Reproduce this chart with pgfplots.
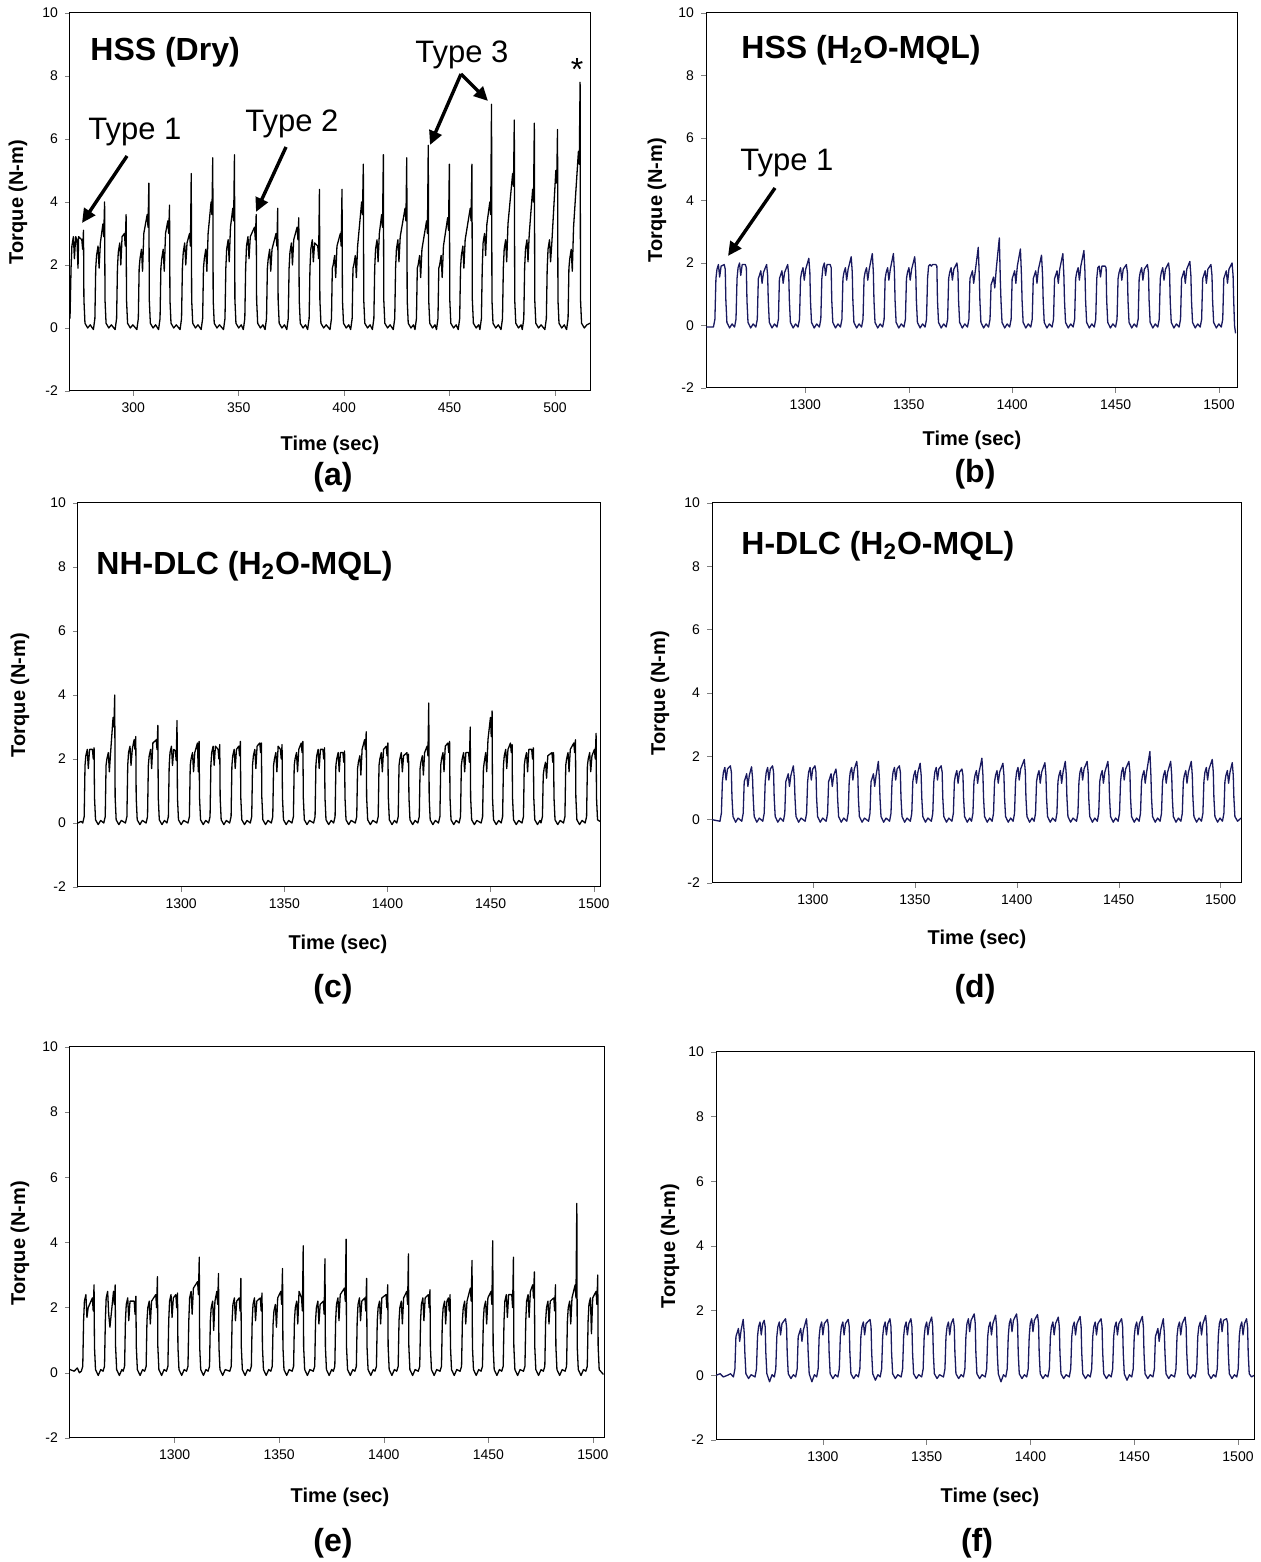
\documentclass[border=0pt]{standalone}
\usepackage{fontspec}
\setmainfont{Liberation Sans}
\usepackage{pgfplots}
\pgfplotsset{compat=1.18}
\usetikzlibrary{arrows.meta}
\definecolor{navytr}{RGB}{25,25,95}
\pgfplotsset{panel/.style={scale only axis, anchor=south west,
  axis line style={line width=0.5pt}, tick align=outside, tick pos=left,
  major tick length=2.5pt, ymin=-2, ymax=10, ytick={-2,0,2,4,6,8,10},
  tick label style={font=\fontsize{7}{8}\selectfont},
  /pgf/number format/assume math mode=true,
  xticklabel style={/pgf/number format/1000 sep={}},
  every axis plot/.append style={line width=0.65pt, line join=round}}}
\begin{document}
\begin{tikzpicture}
\path[use as bounding box] (0,0) rectangle (630.5pt,781pt);
% (a)
\begin{axis}[panel, at={(35pt,585.5pt)}, width=260pt, height=189pt, xmin=270, xmax=516.6, xtick={300,350,400,450,500}]
\addplot[black] coordinates {(270,0.3) (270.5,1.9) (270.9,2.6) (271.6,2.9) (272.1,2.2) (272.7,2.9) (273.3,2.8) (273.8,1.9) (274.1,2.9) (275.6,2.8) (276.0,2.5) (276.4,3.1) (276.6,0.9) (277.1,0.15) (278.4,0.0) (279.6,0.1)
(281.1,-0.05) (281.8,0.3) (282.2,1.9) (282.6,2.3) (283.3,2.6) (283.8,1.9) (284.4,2.7) (285.6,3.3) (286.0,2.9) (286.4,4.0) (286.6,0.9) (287.1,0.15) (288.4,0.0) (289.6,0.1)
(291.4,-0.05) (292.1,0.3) (292.5,1.9) (292.9,2.4) (293.6,2.7) (294.1,2.0) (294.7,2.9) (295.8,3.0) (296.2,2.6) (296.6,3.6) (296.8,0.9) (297.3,0.15) (298.6,0.0) (299.8,0.1)
(301.7,-0.05) (302.4,0.3) (302.8,1.9) (303.2,2.2) (303.9,2.5) (304.4,1.8) (305.0,3.0) (306.6,3.6) (307.0,3.2) (307.4,4.6) (307.6,0.9) (308.1,0.15) (309.4,0.0) (310.6,0.1)
(312.0,-0.05) (312.7,0.3) (313.1,1.9) (313.5,2.2) (314.2,2.5) (314.7,1.8) (315.3,3.0) (316.4,3.4) (316.8,3.0) (317.2,3.9) (317.4,0.9) (317.9,0.15) (319.2,0.0) (320.4,0.1)
(322.2,-0.05) (322.9,0.3) (323.3,1.9) (323.7,2.4) (324.4,2.7) (324.9,2.0) (325.5,2.7) (326.7,3.0) (327.1,2.6) (327.5,4.9) (327.7,0.9) (328.2,0.15) (329.5,0.0) (330.7,0.1)
(332.2,-0.05) (332.9,0.3) (333.3,1.9) (333.7,2.2) (334.4,2.5) (334.9,1.8) (335.5,3.0) (336.9,4.0) (337.3,3.6) (337.7,5.4) (337.9,0.9) (338.4,0.15) (339.7,0.0) (340.9,0.1)
(342.8,-0.05) (343.5,0.3) (343.9,1.9) (344.3,2.5) (345.0,2.8) (345.5,2.1) (346.1,3.2) (347.2,3.8) (347.6,3.4) (348.0,5.5) (348.2,0.9) (348.7,0.15) (350.0,0.0) (351.2,0.1)
(352.2,-0.05) (352.9,0.3) (353.3,1.9) (353.7,2.6) (354.4,2.9) (354.9,2.2) (355.5,2.9) (357.5,3.2) (357.9,2.8) (358.3,3.6) (358.5,0.9) (359.0,0.15) (360.3,0.0) (361.5,0.1)
(362.5,-0.05) (363.2,0.3) (363.6,1.9) (364.0,2.2) (364.7,2.5) (365.2,1.8) (365.8,2.5) (367.7,3.0) (368.1,2.6) (368.5,3.8) (368.7,0.9) (369.2,0.15) (370.5,0.0) (371.7,0.1)
(372.8,-0.05) (373.5,0.3) (373.9,1.9) (374.3,2.4) (375.0,2.7) (375.5,2.0) (376.1,2.8) (377.7,3.2) (378.1,2.8) (378.5,3.5) (378.7,0.9) (379.2,0.15) (380.5,0.0) (381.7,0.1)
(382.7,-0.05) (383.4,0.3) (383.8,1.9) (384.2,2.5) (384.9,2.8) (385.4,2.1) (386.0,2.7) (387.5,2.6) (387.9,2.2) (388.3,4.4) (388.5,0.9) (389.0,0.15) (390.3,0.0) (391.5,0.1)
(393.3,-0.05) (394.0,0.3) (394.4,1.9) (394.8,2.0) (395.5,2.3) (396.0,1.6) (396.6,2.6) (398.2,3.0) (398.6,2.6) (399.0,4.4) (399.2,0.9) (399.7,0.15) (401.0,0.0) (402.2,0.1)
(403.1,-0.05) (403.8,0.3) (404.2,1.9) (404.6,2.0) (405.3,2.3) (405.8,1.6) (406.4,2.6) (408.3,4.0) (408.7,3.6) (409.1,5.2) (409.3,0.9) (409.8,0.15) (411.1,0.0) (412.3,0.1)
(413.4,-0.05) (414.1,0.3) (414.5,1.9) (414.9,2.5) (415.6,2.8) (416.1,2.1) (416.7,3.0) (417.8,3.6) (418.2,3.2) (418.6,5.5) (418.8,0.9) (419.3,0.15) (420.6,0.0) (421.8,0.1)
(423.3,-0.05) (424.0,0.3) (424.4,1.9) (424.8,2.5) (425.5,2.8) (426.0,2.1) (426.6,2.9) (428.9,3.8) (429.3,3.4) (429.7,5.4) (429.9,0.9) (430.4,0.15) (431.7,0.0) (432.9,0.1)
(433.6,-0.05) (434.3,0.3) (434.7,1.9) (435.1,2.0) (435.8,2.3) (436.3,1.6) (436.9,2.5) (439.1,3.4) (439.5,3.0) (439.9,5.8) (440.1,0.9) (440.6,0.15) (441.9,0.0) (443.1,0.1)
(443.8,-0.05) (444.5,0.3) (444.9,1.9) (445.3,2.0) (446.0,2.3) (446.5,1.6) (447.1,2.6) (449.1,3.5) (449.5,3.1) (449.9,5.2) (450.1,0.9) (450.6,0.15) (451.9,0.0) (453.1,0.1)
(454.1,-0.05) (454.8,0.3) (455.2,1.9) (455.6,2.3) (456.3,2.6) (456.8,1.9) (457.4,2.8) (459.8,3.8) (460.2,3.4) (460.6,5.2) (460.8,0.9) (461.3,0.15) (462.6,0.0) (463.8,0.1)
(464.4,-0.05) (465.1,0.3) (465.5,1.9) (465.9,2.7) (466.6,3.0) (467.1,2.3) (467.7,3.3) (469.1,4.0) (469.5,3.6) (469.9,7.1) (470.1,0.9) (470.6,0.15) (471.9,0.0) (473.1,0.1)
(474.4,-0.05) (475.1,0.3) (475.5,1.9) (475.9,2.5) (476.6,2.8) (477.1,2.1) (477.7,3.3) (479.9,4.9) (480.3,4.5) (480.7,6.6) (480.9,0.9) (481.4,0.15) (482.7,0.0) (483.9,0.1)
(484.5,-0.05) (485.2,0.3) (485.6,1.9) (486.0,2.5) (486.7,2.8) (487.2,2.1) (487.8,3.0) (489.4,4.4) (489.8,4.0) (490.2,6.5) (490.4,0.9) (490.9,0.15) (492.2,0.0) (493.4,0.1)
(495.2,-0.05) (495.9,0.3) (496.3,1.9) (496.7,2.5) (497.4,2.8) (497.9,2.1) (498.5,2.7) (500.4,5.0) (500.8,4.6) (501.2,6.3) (501.4,0.9) (501.9,0.15) (503.2,0.0) (504.4,0.1)
(505.5,-0.05) (506.2,0.3) (506.6,1.9) (507.0,2.2) (507.7,2.5) (508.2,1.8) (508.8,3.2) (511.1,5.6) (511.5,5.2) (511.9,7.8) (512.1,0.9) (512.6,0.15) (513.9,0.0) (515.1,0.1) (516.6,0.15)};
\end{axis}
% (b)
\begin{axis}[panel, at={(353pt,587pt)}, width=265.5pt, height=187.5pt, xmin=1252, xmax=1508.7, xtick={1300,1350,1400,1450,1500}]
\addplot[navytr] coordinates {(1252,-0.05)
(1255.6,-0.05) (1256.3,0.2) (1256.8,1.5) (1257.3,1.8) (1258.0,1.95) (1258.6,1.55) (1259.3,1.9) (1260.8,1.95) (1261.3,1.8) (1261.6,0.8) (1262.1,0.1) (1263.4,-0.08) (1264.6,0.05)
(1265.8,-0.05) (1266.5,0.2) (1267.0,1.5) (1267.5,1.85) (1268.2,2.0) (1268.8,1.6) (1269.5,1.95) (1271.0,1.95) (1271.5,1.85) (1271.8,0.8) (1272.3,0.1) (1273.6,-0.08) (1274.8,0.05)
(1276.1,-0.05) (1276.8,0.2) (1277.3,1.5) (1277.8,1.6) (1278.5,1.75) (1279.1,1.35) (1279.8,1.7) (1281.3,1.95) (1281.8,1.6) (1282.1,0.8) (1282.6,0.1) (1283.9,-0.08) (1285.1,0.05)
(1286.3,-0.05) (1287.0,0.2) (1287.5,1.5) (1288.0,1.6) (1288.7,1.75) (1289.3,1.35) (1290.0,1.7) (1291.5,1.95) (1292.0,1.6) (1292.3,0.8) (1292.8,0.1) (1294.1,-0.08) (1295.3,0.05)
(1296.5,-0.05) (1297.2,0.2) (1297.7,1.5) (1298.2,1.7) (1298.9,1.85) (1299.5,1.45) (1300.2,1.8) (1301.7,2.15) (1302.2,1.7) (1302.5,0.8) (1303.0,0.1) (1304.3,-0.08) (1305.5,0.05)
(1306.8,-0.05) (1307.5,0.2) (1308.0,1.5) (1308.5,1.85) (1309.2,2.0) (1309.8,1.6) (1310.5,1.95) (1312.0,1.95) (1312.5,1.85) (1312.8,0.8) (1313.3,0.1) (1314.6,-0.08) (1315.8,0.05)
(1317.0,-0.05) (1317.7,0.2) (1318.2,1.5) (1318.7,1.7) (1319.4,1.85) (1320.0,1.45) (1320.7,1.8) (1322.2,2.2) (1322.7,1.7) (1323.0,0.8) (1323.5,0.1) (1324.8,-0.08) (1326.0,0.05)
(1327.2,-0.05) (1327.9,0.2) (1328.4,1.5) (1328.9,1.7) (1329.6,1.85) (1330.2,1.45) (1330.9,1.8) (1332.4,2.3) (1332.9,1.7) (1333.2,0.8) (1333.7,0.1) (1335.0,-0.08) (1336.2,0.05)
(1337.4,-0.05) (1338.1,0.2) (1338.6,1.5) (1339.1,1.7) (1339.8,1.85) (1340.4,1.45) (1341.1,1.8) (1342.6,2.3) (1343.1,1.7) (1343.4,0.8) (1343.9,0.1) (1345.2,-0.08) (1346.4,0.05)
(1347.7,-0.05) (1348.4,0.2) (1348.9,1.5) (1349.4,1.7) (1350.1,1.85) (1350.7,1.45) (1351.4,1.8) (1352.9,2.2) (1353.4,1.7) (1353.7,0.8) (1354.2,0.1) (1355.5,-0.08) (1356.7,0.05)
(1357.9,-0.05) (1358.6,0.2) (1359.1,1.5) (1359.6,1.9) (1360.3,1.95) (1360.9,1.9) (1361.6,1.95) (1363.1,1.95) (1363.6,1.9) (1363.9,0.8) (1364.4,0.1) (1365.7,-0.08) (1366.9,0.05)
(1368.1,-0.05) (1368.8,0.2) (1369.3,1.5) (1369.8,1.7) (1370.5,1.85) (1371.1,1.45) (1371.8,1.8) (1373.3,2.0) (1373.8,1.7) (1374.1,0.8) (1374.6,0.1) (1375.9,-0.08) (1377.1,0.05)
(1378.4,-0.05) (1379.1,0.2) (1379.6,1.5) (1380.1,1.6) (1380.8,1.75) (1381.4,1.35) (1382.1,1.7) (1383.6,2.5) (1384.1,1.6) (1384.4,0.8) (1384.9,0.1) (1386.2,-0.08) (1387.4,0.05)
(1388.6,-0.05) (1389.3,0.2) (1389.8,1.3) (1390.3,1.4) (1391.0,1.55) (1391.6,1.2) (1392.3,1.8) (1393.8,2.8) (1394.3,1.4) (1394.6,0.8) (1395.1,0.1) (1396.4,-0.08) (1397.6,0.05)
(1398.8,-0.05) (1399.5,0.2) (1400.0,1.5) (1400.5,1.6) (1401.2,1.75) (1401.8,1.35) (1402.5,1.9) (1404.0,2.45) (1404.5,1.6) (1404.8,0.8) (1405.3,0.1) (1406.6,-0.08) (1407.8,0.05)
(1409.0,-0.05) (1409.7,0.2) (1410.2,1.5) (1410.7,1.6) (1411.4,1.75) (1412.0,1.35) (1412.7,1.8) (1414.2,2.25) (1414.7,1.6) (1415.0,0.8) (1415.5,0.1) (1416.8,-0.08) (1418.0,0.05)
(1419.3,-0.05) (1420.0,0.2) (1420.5,1.5) (1421.0,1.6) (1421.7,1.75) (1422.3,1.35) (1423.0,1.8) (1424.5,2.3) (1425.0,1.6) (1425.3,0.8) (1425.8,0.1) (1427.1,-0.08) (1428.3,0.05)
(1429.5,-0.05) (1430.2,0.2) (1430.7,1.5) (1431.2,1.7) (1431.9,1.85) (1432.5,1.45) (1433.2,1.9) (1434.7,2.4) (1435.2,1.7) (1435.5,0.8) (1436.0,0.1) (1437.3,-0.08) (1438.5,0.05)
(1439.7,-0.05) (1440.4,0.2) (1440.9,1.5) (1441.4,1.85) (1442.1,1.9) (1442.7,1.55) (1443.4,1.9) (1444.9,1.9) (1445.4,1.85) (1445.7,0.8) (1446.2,0.1) (1447.5,-0.08) (1448.7,0.05)
(1450.0,-0.05) (1450.7,0.2) (1451.2,1.5) (1451.7,1.7) (1452.4,1.85) (1453.0,1.45) (1453.7,1.8) (1455.2,1.95) (1455.7,1.7) (1456.0,0.8) (1456.5,0.1) (1457.8,-0.08) (1459.0,0.05)
(1460.2,-0.05) (1460.9,0.2) (1461.4,1.5) (1461.9,1.7) (1462.6,1.85) (1463.2,1.45) (1463.9,1.8) (1465.4,1.95) (1465.9,1.7) (1466.2,0.8) (1466.7,0.1) (1468.0,-0.08) (1469.2,0.05)
(1470.4,-0.05) (1471.1,0.2) (1471.6,1.5) (1472.1,1.7) (1472.8,1.85) (1473.4,1.45) (1474.1,1.8) (1475.6,2.0) (1476.1,1.7) (1476.4,0.8) (1476.9,0.1) (1478.2,-0.08) (1479.4,0.05)
(1480.7,-0.05) (1481.4,0.2) (1481.9,1.5) (1482.4,1.6) (1483.1,1.75) (1483.7,1.35) (1484.4,1.8) (1485.9,2.05) (1486.4,1.6) (1486.7,0.8) (1487.2,0.1) (1488.5,-0.08) (1489.7,0.05)
(1490.9,-0.05) (1491.6,0.2) (1492.1,1.5) (1492.6,1.6) (1493.3,1.75) (1493.9,1.35) (1494.6,1.8) (1496.1,1.95) (1496.6,1.6) (1496.9,0.8) (1497.4,0.1) (1498.7,-0.08) (1499.9,0.05)
(1501.1,-0.05) (1501.8,0.2) (1502.3,1.5) (1502.8,1.6) (1503.5,1.75) (1504.1,1.35) (1504.8,1.8) (1506.3,2.0) (1506.8,1.6) (1507.1,0.8) (1507.5,0.0) (1508.0,-0.25)};
\end{axis}
% (c)
\begin{axis}[panel, at={(39pt,337.5pt)}, width=261pt, height=192pt, xmin=1250, xmax=1503, xtick={1300,1350,1400,1450,1500}]
\addplot[black] coordinates {(1250,0.0) (1251.5,0.05) (1252.3,0.0)
(1253.0,0.2) (1253.4,1.8) (1253.8,2.1) (1254.5,2.3) (1255.0,1.7) (1255.6,2.3) (1257.0,2.3) (1257.4,2.0) (1257.8,2.35) (1258.0,0.8) (1258.5,0.1) (1259.8,-0.05) (1261.0,0.08)
(1262.5,0.0) (1263.2,0.2) (1263.6,1.8) (1264.0,2.0) (1264.7,2.2) (1265.2,1.6) (1265.8,2.2) (1267.0,3.3) (1267.4,3.0) (1267.8,4.0) (1268.0,0.8) (1268.5,0.1) (1269.8,-0.05) (1271.0,0.08)
(1273.0,0.0) (1273.7,0.2) (1274.1,1.8) (1274.5,2.2) (1275.2,2.4) (1275.7,1.8) (1276.3,2.3) (1277.2,2.6) (1277.6,2.3) (1278.0,2.7) (1278.2,0.8) (1278.7,0.1) (1280.0,-0.05) (1281.2,0.08)
(1283.0,0.0) (1283.7,0.2) (1284.1,1.8) (1284.5,2.1) (1285.2,2.3) (1285.7,1.7) (1286.3,2.5) (1287.9,2.6) (1288.3,2.3) (1288.7,3.05) (1288.9,0.8) (1289.4,0.1) (1290.7,-0.05) (1291.9,0.08)
(1293.1,0.0) (1293.8,0.2) (1294.2,1.8) (1294.6,2.2) (1295.3,2.4) (1295.8,1.8) (1296.4,2.3) (1297.2,2.25) (1297.6,1.95) (1298.0,3.2) (1298.2,0.8) (1298.7,0.1) (1300.0,-0.05) (1301.2,0.08)
(1303.3,0.0) (1304.0,0.2) (1304.4,1.8) (1304.8,2.0) (1305.5,2.2) (1306.0,1.6) (1306.6,2.2) (1307.9,2.5) (1308.3,1.6) (1308.7,2.55) (1308.9,0.8) (1309.4,0.1) (1310.7,-0.05) (1311.9,0.08)
(1313.3,0.0) (1314.0,0.2) (1314.4,1.8) (1314.8,2.2) (1315.5,2.4) (1316.0,1.8) (1316.6,2.4) (1317.9,2.3) (1318.3,2.0) (1318.7,2.45) (1318.9,0.8) (1319.4,0.1) (1320.7,-0.05) (1321.9,0.08)
(1323.5,0.0) (1324.2,0.2) (1324.6,1.8) (1325.0,2.1) (1325.7,2.3) (1326.2,1.7) (1326.8,2.3) (1327.9,2.4) (1328.3,2.1) (1328.7,2.55) (1328.9,0.8) (1329.4,0.1) (1330.7,-0.05) (1331.9,0.08)
(1333.5,0.0) (1334.2,0.2) (1334.6,1.8) (1335.0,2.1) (1335.7,2.3) (1336.2,1.7) (1336.8,2.4) (1338.1,2.5) (1338.5,2.2) (1338.9,2.5) (1339.1,0.8) (1339.6,0.1) (1340.9,-0.05) (1342.1,0.08)
(1343.7,0.0) (1344.4,0.2) (1344.8,1.8) (1345.2,2.0) (1345.9,2.2) (1346.4,1.6) (1347.0,2.4) (1348.1,2.3) (1348.5,2.0) (1348.9,2.45) (1349.1,0.8) (1349.6,0.1) (1350.9,-0.05) (1352.1,0.08)
(1353.7,0.0) (1354.4,0.2) (1354.8,1.8) (1355.2,2.0) (1355.9,2.2) (1356.4,1.6) (1357.0,2.3) (1358.2,2.5) (1358.6,2.2) (1359.0,2.55) (1359.2,0.8) (1359.7,0.1) (1361.0,-0.05) (1362.2,0.08)
(1364.2,0.0) (1364.9,0.2) (1365.3,1.8) (1365.7,2.1) (1366.4,2.3) (1366.9,1.7) (1367.5,2.3) (1368.7,2.3) (1369.1,2.0) (1369.5,2.35) (1369.7,0.8) (1370.2,0.1) (1371.5,-0.05) (1372.7,0.08)
(1373.9,0.0) (1374.6,0.2) (1375.0,1.8) (1375.4,2.0) (1376.1,2.2) (1376.6,1.6) (1377.2,2.2) (1378.4,2.2) (1378.8,1.9) (1379.2,2.25) (1379.4,0.8) (1379.9,0.1) (1381.2,-0.05) (1382.4,0.08)
(1384.4,0.0) (1385.1,0.2) (1385.5,1.7) (1385.9,1.9) (1386.6,2.1) (1387.1,1.5) (1387.7,2.3) (1388.9,2.6) (1389.3,2.3) (1389.7,2.85) (1389.9,0.8) (1390.4,0.1) (1391.7,-0.05) (1392.9,0.08)
(1394.8,0.0) (1395.5,0.2) (1395.9,1.8) (1396.3,2.0) (1397.0,2.2) (1397.5,1.6) (1398.1,2.3) (1399.4,2.4) (1399.8,2.1) (1400.2,2.5) (1400.4,0.8) (1400.9,0.1) (1402.2,-0.05) (1403.4,0.08)
(1404.5,0.0) (1405.2,0.2) (1405.6,1.8) (1406.0,2.0) (1406.7,2.2) (1407.2,1.6) (1407.8,2.1) (1409.4,2.2) (1409.8,1.9) (1410.2,2.15) (1410.4,0.8) (1410.9,0.1) (1412.2,-0.05) (1413.4,0.08)
(1414.7,0.0) (1415.4,0.2) (1415.8,1.7) (1416.2,1.9) (1416.9,2.1) (1417.4,1.5) (1418.0,2.2) (1419.2,2.4) (1419.6,2.1) (1420.0,3.75) (1420.2,0.8) (1420.7,0.1) (1422.0,-0.05) (1423.2,0.08)
(1424.7,0.0) (1425.4,0.2) (1425.8,1.8) (1426.2,2.0) (1426.9,2.2) (1427.4,1.6) (1428.0,2.4) (1429.3,2.5) (1429.7,2.2) (1430.1,2.55) (1430.3,0.8) (1430.8,0.1) (1432.1,-0.05) (1433.3,0.08)
(1434.7,0.0) (1435.4,0.2) (1435.8,1.8) (1436.2,2.0) (1436.9,2.2) (1437.4,1.6) (1438.0,2.2) (1439.3,2.2) (1439.7,1.9) (1440.1,3.0) (1440.3,0.8) (1440.8,0.1) (1442.1,-0.05) (1443.3,0.08)
(1445.4,0.0) (1446.1,0.2) (1446.5,1.7) (1446.9,1.9) (1447.6,2.2) (1448.1,1.6) (1448.7,2.6) (1449.9,3.3) (1450.3,2.7) (1450.7,3.5) (1450.9,0.8) (1451.4,0.1) (1452.7,-0.05) (1453.9,0.08)
(1455.1,0.0) (1455.8,0.2) (1456.2,1.8) (1456.6,2.1) (1457.3,2.3) (1457.8,1.7) (1458.4,2.3) (1459.6,2.5) (1460.0,2.2) (1460.4,2.45) (1460.6,0.8) (1461.1,0.1) (1462.4,-0.05) (1463.6,0.08)
(1465.2,0.0) (1465.9,0.2) (1466.3,1.8) (1466.7,2.0) (1467.4,2.2) (1467.9,1.6) (1468.5,2.3) (1469.9,2.3) (1470.3,2.0) (1470.7,2.35) (1470.9,0.8) (1471.4,0.1) (1472.7,-0.05) (1473.9,0.08)
(1474.4,0.0) (1475.1,0.2) (1475.5,1.5) (1475.9,1.7) (1476.6,1.9) (1477.1,1.4) (1477.7,2.1) (1479.7,2.2) (1480.1,1.9) (1480.5,2.2) (1480.7,0.8) (1481.2,0.1) (1482.5,-0.05) (1483.7,0.08)
(1485.3,0.0) (1486.0,0.2) (1486.4,1.8) (1486.8,2.0) (1487.5,2.2) (1488.0,1.6) (1488.6,2.3) (1490.3,2.5) (1490.7,2.2) (1491.1,2.6) (1491.3,0.8) (1491.8,0.1) (1493.1,-0.05) (1494.3,0.08)
(1495.8,0.0) (1496.5,0.2) (1496.9,1.8) (1497.3,2.0) (1498.0,2.2) (1498.5,1.6) (1499.1,2.1) (1500.3,2.3) (1500.7,2.0) (1501.1,2.8) (1501.3,0.8) (1501.8,0.1) (1503.0,0.05)};
\end{axis}
% (d)
\begin{axis}[panel, at={(356pt,339.5pt)}, width=264.5pt, height=190pt, xmin=1250.5, xmax=1510, xtick={1300,1350,1400,1450,1500}]
\addplot[navytr] coordinates {(1250.5,0.0)
(1254.4,-0.05) (1255.1,0.2) (1255.6,1.2) (1256.1,1.5) (1256.8,1.65) (1257.4,1.25) (1258.1,1.6) (1259.5,1.7) (1260.0,1.5) (1260.3,0.7) (1260.8,0.1) (1262.1,-0.08) (1263.3,0.05)
(1265.1,-0.05) (1265.8,0.2) (1266.3,1.2) (1266.8,1.3) (1267.5,1.45) (1268.1,1.05) (1268.8,1.4) (1269.9,1.67) (1270.4,1.3) (1270.7,0.7) (1271.2,0.1) (1272.5,-0.08) (1273.7,0.05)
(1275.4,-0.05) (1276.1,0.2) (1276.6,1.2) (1277.1,1.5) (1277.8,1.65) (1278.4,1.25) (1279.1,1.6) (1280.2,1.7) (1280.7,1.5) (1281.0,0.7) (1281.5,0.1) (1282.8,-0.08) (1284.0,0.05)
(1285.5,-0.05) (1286.2,0.2) (1286.7,1.2) (1287.2,1.3) (1287.9,1.45) (1288.5,1.05) (1289.2,1.4) (1290.4,1.7) (1290.9,1.3) (1291.2,0.7) (1291.7,0.1) (1293.0,-0.08) (1294.2,0.05)
(1296.2,-0.05) (1296.9,0.2) (1297.4,1.2) (1297.9,1.5) (1298.6,1.65) (1299.2,1.25) (1299.9,1.6) (1301.0,1.7) (1301.5,1.5) (1301.8,0.7) (1302.3,0.1) (1303.6,-0.08) (1304.8,0.05)
(1306.5,-0.05) (1307.2,0.2) (1307.7,1.2) (1308.2,1.3) (1308.9,1.45) (1309.5,1.05) (1310.2,1.4) (1311.3,1.6) (1311.8,1.3) (1312.1,0.7) (1312.6,0.1) (1313.9,-0.08) (1315.1,0.05)
(1316.6,-0.05) (1317.3,0.2) (1317.8,1.2) (1318.3,1.5) (1319.0,1.65) (1319.6,1.25) (1320.3,1.6) (1321.5,1.84) (1322.0,1.5) (1322.3,0.7) (1322.8,0.1) (1324.1,-0.08) (1325.3,0.05)
(1327.3,-0.05) (1328.0,0.2) (1328.5,1.2) (1329.0,1.3) (1329.7,1.45) (1330.3,1.05) (1331.0,1.4) (1332.1,1.84) (1332.6,1.3) (1332.9,0.7) (1333.4,0.1) (1334.7,-0.08) (1335.9,0.05)
(1337.6,-0.05) (1338.3,0.2) (1338.8,1.2) (1339.3,1.5) (1340.0,1.65) (1340.6,1.25) (1341.3,1.6) (1342.4,1.7) (1342.9,1.5) (1343.2,0.7) (1343.7,0.1) (1345.0,-0.08) (1346.2,0.05)
(1347.8,-0.05) (1348.5,0.2) (1349.0,1.2) (1349.5,1.4) (1350.2,1.55) (1350.8,1.15) (1351.5,1.5) (1352.6,1.78) (1353.1,1.4) (1353.4,0.7) (1353.9,0.1) (1355.2,-0.08) (1356.4,0.05)
(1358.1,-0.05) (1358.8,0.2) (1359.3,1.2) (1359.8,1.5) (1360.5,1.65) (1361.1,1.25) (1361.8,1.6) (1362.9,1.7) (1363.4,1.5) (1363.7,0.7) (1364.2,0.1) (1365.5,-0.08) (1366.7,0.05)
(1368.2,-0.05) (1368.9,0.2) (1369.4,1.2) (1369.9,1.4) (1370.6,1.55) (1371.2,1.15) (1371.9,1.5) (1373.1,1.6) (1373.6,1.4) (1373.9,0.7) (1374.4,0.1) (1375.7,-0.08) (1376.9,0.05)
(1377.8,-0.05) (1378.5,0.2) (1379.0,1.2) (1379.5,1.4) (1380.2,1.55) (1380.8,1.15) (1381.5,1.5) (1382.9,1.94) (1383.4,1.4) (1383.7,0.7) (1384.2,0.1) (1385.5,-0.08) (1386.7,0.05)
(1387.9,-0.05) (1388.6,0.2) (1389.1,1.2) (1389.6,1.4) (1390.3,1.55) (1390.9,1.15) (1391.6,1.5) (1393.2,1.78) (1393.7,1.4) (1394.0,0.7) (1394.5,0.1) (1395.8,-0.08) (1397.0,0.05)
(1398.2,-0.05) (1398.9,0.2) (1399.4,1.2) (1399.9,1.5) (1400.6,1.65) (1401.2,1.25) (1401.9,1.6) (1403.7,1.9) (1404.2,1.5) (1404.5,0.7) (1405.0,0.1) (1406.3,-0.08) (1407.5,0.05)
(1408.5,-0.05) (1409.2,0.2) (1409.7,1.2) (1410.2,1.4) (1410.9,1.55) (1411.5,1.15) (1412.2,1.5) (1413.8,1.8) (1414.3,1.4) (1414.6,0.7) (1415.1,0.1) (1416.4,-0.08) (1417.6,0.05)
(1419.0,-0.05) (1419.7,0.2) (1420.2,1.2) (1420.7,1.4) (1421.4,1.55) (1422.0,1.15) (1422.7,1.5) (1423.8,1.84) (1424.3,1.4) (1424.6,0.7) (1425.1,0.1) (1426.4,-0.08) (1427.6,0.05)
(1429.3,-0.05) (1430.0,0.2) (1430.5,1.2) (1431.0,1.5) (1431.7,1.65) (1432.3,1.25) (1433.0,1.6) (1434.5,1.84) (1435.0,1.5) (1435.3,0.7) (1435.8,0.1) (1437.1,-0.08) (1438.3,0.05)
(1439.5,-0.05) (1440.2,0.2) (1440.7,1.2) (1441.2,1.4) (1441.9,1.55) (1442.5,1.15) (1443.2,1.5) (1444.7,1.84) (1445.2,1.4) (1445.5,0.7) (1446.0,0.1) (1447.3,-0.08) (1448.5,0.05)
(1449.7,-0.05) (1450.4,0.2) (1450.9,1.2) (1451.4,1.5) (1452.1,1.65) (1452.7,1.25) (1453.4,1.6) (1455.0,1.84) (1455.5,1.5) (1455.8,0.7) (1456.3,0.1) (1457.6,-0.08) (1458.8,0.05)
(1460.0,-0.05) (1460.7,0.2) (1461.2,1.2) (1461.7,1.4) (1462.4,1.55) (1463.0,1.15) (1463.7,1.5) (1465.3,2.15) (1465.8,1.4) (1466.1,0.7) (1466.6,0.1) (1467.9,-0.08) (1469.1,0.05)
(1470.3,-0.05) (1471.0,0.2) (1471.5,1.2) (1472.0,1.4) (1472.7,1.55) (1473.3,1.15) (1474.0,1.5) (1475.5,1.84) (1476.0,1.4) (1476.3,0.7) (1476.8,0.1) (1478.1,-0.08) (1479.3,0.05)
(1480.5,-0.05) (1481.2,0.2) (1481.7,1.2) (1482.2,1.4) (1482.9,1.55) (1483.5,1.15) (1484.2,1.5) (1485.6,1.84) (1486.1,1.4) (1486.4,0.7) (1486.9,0.1) (1488.2,-0.08) (1489.4,0.05)
(1490.6,-0.05) (1491.3,0.2) (1491.8,1.2) (1492.3,1.5) (1493.0,1.65) (1493.6,1.25) (1494.3,1.6) (1495.9,1.9) (1496.4,1.5) (1496.7,0.7) (1497.2,0.1) (1498.5,-0.08) (1499.7,0.05)
(1500.9,-0.05) (1501.6,0.2) (1502.1,1.2) (1502.6,1.4) (1503.3,1.55) (1503.9,1.15) (1504.6,1.5) (1505.7,1.8) (1506.2,1.4) (1506.5,0.7) (1507.0,0.1) (1508.3,-0.05) (1510,0.05)};
\end{axis}
% (e)
\begin{axis}[panel, at={(35pt,62pt)}, width=267pt, height=195.5pt, xmin=1250, xmax=1505.3, xtick={1300,1350,1400,1450,1500}]
\addplot[black] coordinates {(1250,0.1) (1252.0,0.05) (1253.5,0.15) (1254.5,0.0)
(1255.4,0.05) (1256.1,0.2) (1256.5,1.6) (1256.9,2.2) (1257.6,2.4) (1258.1,1.7) (1258.7,2.0) (1260.7,2.3) (1261.1,1.9) (1261.5,2.7) (1261.7,0.8) (1262.2,0.1) (1263.5,-0.08) (1264.7,0.1)
(1265.8,0.05) (1266.5,0.2) (1266.9,1.6) (1267.3,2.3) (1268.0,2.5) (1268.5,1.8) (1269.1,1.4) (1270.8,2.5) (1271.2,2.1) (1271.6,2.7) (1271.8,0.8) (1272.3,0.1) (1273.6,-0.08) (1274.8,0.1)
(1275.4,0.05) (1276.1,0.2) (1276.5,1.6) (1276.9,2.1) (1277.6,2.3) (1278.1,1.6) (1278.7,2.2) (1280.7,2.2) (1281.1,1.8) (1281.5,2.35) (1281.7,0.8) (1282.2,0.1) (1283.5,-0.08) (1284.7,0.1)
(1285.7,0.05) (1286.4,0.2) (1286.8,1.6) (1287.2,2.0) (1287.9,2.2) (1288.4,1.5) (1289.0,2.2) (1291.0,2.4) (1291.4,2.0) (1291.8,2.95) (1292.0,0.8) (1292.5,0.1) (1293.8,-0.08) (1295.0,0.1)
(1296.1,0.05) (1296.8,0.2) (1297.2,1.6) (1297.6,2.2) (1298.3,2.4) (1298.8,1.7) (1299.4,2.3) (1300.6,2.4) (1301.0,2.0) (1301.4,2.45) (1301.6,0.8) (1302.1,0.1) (1303.4,-0.08) (1304.6,0.1)
(1305.7,0.05) (1306.4,0.2) (1306.8,1.6) (1307.2,2.3) (1307.9,2.5) (1308.4,1.8) (1309.0,2.6) (1311.0,2.8) (1311.4,2.4) (1311.8,3.55) (1312.0,0.8) (1312.5,0.1) (1313.8,-0.08) (1315.0,0.1)
(1316.0,0.05) (1316.7,0.2) (1317.1,1.6) (1317.5,2.0) (1318.2,2.2) (1318.7,1.3) (1319.3,2.2) (1320.2,2.5) (1320.6,2.1) (1321.0,3.05) (1321.2,0.8) (1321.7,0.1) (1323.0,-0.08) (1324.2,0.1)
(1326.4,0.05) (1327.1,0.2) (1327.5,1.6) (1327.9,2.1) (1328.6,2.3) (1329.1,1.6) (1329.7,2.2) (1330.9,2.3) (1331.3,1.9) (1331.7,2.9) (1331.9,0.8) (1332.4,0.1) (1333.7,-0.08) (1334.9,0.1)
(1336.0,0.05) (1336.7,0.2) (1337.1,1.6) (1337.5,2.1) (1338.2,2.3) (1338.7,1.6) (1339.3,2.2) (1341.0,2.3) (1341.4,1.9) (1341.8,2.45) (1342.0,0.8) (1342.5,0.1) (1343.8,-0.08) (1345.0,0.1)
(1346.0,0.05) (1346.7,0.2) (1347.1,1.5) (1347.5,1.9) (1348.2,2.1) (1348.7,1.4) (1349.3,2.3) (1350.8,2.5) (1351.2,2.1) (1351.6,3.2) (1351.8,0.8) (1352.3,0.1) (1353.6,-0.08) (1354.8,0.1)
(1356.2,0.05) (1356.9,0.2) (1357.3,1.6) (1357.7,2.0) (1358.4,2.2) (1358.9,1.5) (1359.5,2.5) (1360.7,2.3) (1361.1,1.9) (1361.5,3.9) (1361.7,0.8) (1362.2,0.1) (1363.5,-0.08) (1364.7,0.1)
(1366.3,0.05) (1367.0,0.2) (1367.4,1.6) (1367.8,2.0) (1368.5,2.2) (1369.0,1.5) (1369.6,2.1) (1371.1,2.2) (1371.5,1.8) (1371.9,3.5) (1372.1,0.8) (1372.6,0.1) (1373.9,-0.08) (1375.1,0.1)
(1375.9,0.05) (1376.6,0.2) (1377.0,1.6) (1377.4,2.1) (1378.1,2.3) (1378.6,1.6) (1379.2,2.4) (1381.2,2.6) (1381.6,2.2) (1382.0,4.1) (1382.2,0.8) (1382.7,0.1) (1384.0,-0.08) (1385.2,0.1)
(1386.2,0.05) (1386.9,0.2) (1387.3,1.6) (1387.7,2.1) (1388.4,2.3) (1388.9,1.6) (1389.5,2.2) (1391.0,2.3) (1391.4,1.9) (1391.8,2.9) (1392.0,0.8) (1392.5,0.1) (1393.8,-0.08) (1395.0,0.1)
(1395.8,0.05) (1396.5,0.2) (1396.9,1.6) (1397.3,2.0) (1398.0,2.2) (1398.5,1.5) (1399.1,2.3) (1401.1,2.4) (1401.5,2.0) (1401.9,2.7) (1402.1,0.8) (1402.6,0.1) (1403.9,-0.08) (1405.1,0.1)
(1406.2,0.05) (1406.9,0.2) (1407.3,1.6) (1407.7,2.0) (1408.4,2.2) (1408.9,1.5) (1409.5,2.3) (1411.0,2.5) (1411.4,2.1) (1411.8,3.65) (1412.0,0.8) (1412.5,0.1) (1413.8,-0.08) (1415.0,0.1)
(1416.5,0.05) (1417.2,0.2) (1417.6,1.6) (1418.0,2.1) (1418.7,2.3) (1419.2,1.6) (1419.8,2.3) (1421.3,2.4) (1421.7,2.0) (1422.1,2.55) (1422.3,0.8) (1422.8,0.1) (1424.1,-0.08) (1425.3,0.1)
(1426.9,0.05) (1427.6,0.2) (1428.0,1.6) (1428.4,2.0) (1429.1,2.2) (1429.6,1.5) (1430.2,2.2) (1430.9,2.3) (1431.3,1.9) (1431.7,2.4) (1431.9,0.8) (1432.4,0.1) (1433.7,-0.08) (1434.9,0.1)
(1436.5,0.05) (1437.2,0.2) (1437.6,1.6) (1438.0,2.0) (1438.7,2.2) (1439.2,1.5) (1439.8,2.2) (1441.4,2.6) (1441.8,2.2) (1442.2,3.45) (1442.4,0.8) (1442.9,0.1) (1444.2,-0.08) (1445.4,0.1)
(1446.5,0.05) (1447.2,0.2) (1447.6,1.6) (1448.0,2.0) (1448.7,2.2) (1449.2,1.5) (1449.8,2.3) (1451.3,2.5) (1451.7,2.1) (1452.1,4.05) (1452.3,0.8) (1452.8,0.1) (1454.1,-0.08) (1455.3,0.1)
(1456.4,0.05) (1457.1,0.2) (1457.5,1.6) (1457.9,2.2) (1458.6,2.4) (1459.1,1.7) (1459.7,2.4) (1461.2,2.4) (1461.6,2.0) (1462.0,3.55) (1462.2,0.8) (1462.7,0.1) (1464.0,-0.08) (1465.2,0.1)
(1466.8,0.05) (1467.5,0.2) (1467.9,1.6) (1468.3,2.2) (1469.0,2.4) (1469.5,1.7) (1470.1,2.5) (1471.2,2.7) (1471.6,2.3) (1472.0,3.1) (1472.2,0.8) (1472.7,0.1) (1474.0,-0.08) (1475.2,0.1)
(1476.3,0.05) (1477.0,0.2) (1477.4,1.6) (1477.8,2.0) (1478.5,2.2) (1479.0,1.5) (1479.6,2.2) (1481.3,2.3) (1481.7,1.9) (1482.1,2.7) (1482.3,0.8) (1482.8,0.1) (1484.1,-0.08) (1485.3,0.1)
(1486.7,0.05) (1487.4,0.2) (1487.8,1.6) (1488.2,2.0) (1488.9,2.2) (1489.4,1.5) (1490.0,2.3) (1491.5,2.7) (1491.9,2.3) (1492.3,5.2) (1492.5,0.8) (1493.0,0.1) (1494.3,-0.08) (1495.5,0.1)
(1496.6,0.05) (1497.3,0.2) (1497.7,1.6) (1498.1,2.1) (1498.8,2.3) (1499.3,1.2) (1499.9,2.3) (1501.5,2.5) (1501.9,2.1) (1502.3,3.0) (1502.5,0.8) (1503.0,0.1) (1505.0,-0.05)};
\end{axis}
% (f)
\begin{axis}[panel, at={(358pt,61pt)}, width=269pt, height=194pt, xmin=1248.5, xmax=1507.7, xtick={1300,1350,1400,1450,1500}]
\addplot[navytr] coordinates {(1248.5,0.0) (1250.5,0.05) (1252.0,-0.05) (1254.0,0.0) (1255.5,0.05)
(1256.9,-0.05) (1257.6,0.2) (1258.1,1.2) (1258.6,1.3) (1259.3,1.45) (1259.9,1.05) (1260.6,1.4) (1261.6,1.73) (1262.1,1.3) (1262.4,0.7) (1262.9,0.05) (1264.2,-0.1) (1265.4,0.02)
(1267.3,-0.05) (1268.0,0.2) (1268.5,1.2) (1269.0,1.5) (1269.7,1.65) (1270.3,1.25) (1271.0,1.6) (1271.7,1.7) (1272.2,1.5) (1272.5,0.7) (1273.0,0.05) (1274.3,-0.2) (1275.5,0.02)
(1276.6,-0.05) (1277.3,0.2) (1277.8,1.2) (1278.3,1.5) (1279.0,1.65) (1279.6,1.25) (1280.3,1.6) (1282.0,1.75) (1282.5,1.5) (1282.8,0.7) (1283.3,0.05) (1284.6,-0.1) (1285.8,0.02)
(1286.9,-0.05) (1287.6,0.2) (1288.1,1.2) (1288.6,1.3) (1289.3,1.45) (1289.9,1.05) (1290.6,1.4) (1292.1,1.75) (1292.6,1.3) (1292.9,0.7) (1293.4,0.05) (1294.7,-0.2) (1295.9,0.02)
(1297.0,-0.05) (1297.7,0.2) (1298.2,1.2) (1298.7,1.5) (1299.4,1.65) (1300.0,1.25) (1300.7,1.6) (1302.2,1.73) (1302.7,1.5) (1303.0,0.7) (1303.5,0.05) (1304.8,-0.1) (1306.0,0.02)
(1307.2,-0.05) (1307.9,0.2) (1308.4,1.2) (1308.9,1.5) (1309.6,1.65) (1310.2,1.25) (1310.9,1.6) (1312.2,1.73) (1312.7,1.5) (1313.0,0.7) (1313.5,0.05) (1314.8,-0.1) (1316.0,0.02)
(1317.1,-0.05) (1317.8,0.2) (1318.3,1.2) (1318.8,1.5) (1319.5,1.65) (1320.1,1.25) (1320.8,1.6) (1322.7,1.73) (1323.2,1.5) (1323.5,0.7) (1324.0,0.05) (1325.3,-0.15) (1326.5,0.02)
(1327.6,-0.05) (1328.3,0.2) (1328.8,1.2) (1329.3,1.5) (1330.0,1.65) (1330.6,1.25) (1331.3,1.6) (1332.3,1.75) (1332.8,1.5) (1333.1,0.7) (1333.6,0.05) (1334.9,-0.1) (1336.1,0.02)
(1337.7,-0.05) (1338.4,0.2) (1338.9,1.2) (1339.4,1.5) (1340.1,1.65) (1340.7,1.25) (1341.4,1.6) (1342.4,1.75) (1342.9,1.5) (1343.2,0.7) (1343.7,0.05) (1345.0,-0.1) (1346.2,0.02)
(1347.6,-0.05) (1348.3,0.2) (1348.8,1.2) (1349.3,1.5) (1350.0,1.65) (1350.6,1.25) (1351.3,1.6) (1352.4,1.8) (1352.9,1.5) (1353.2,0.7) (1353.7,0.05) (1355.0,-0.1) (1356.2,0.02)
(1358.1,-0.05) (1358.8,0.2) (1359.3,1.2) (1359.8,1.5) (1360.5,1.65) (1361.1,1.25) (1361.8,1.6) (1362.8,1.75) (1363.3,1.5) (1363.6,0.7) (1364.1,0.05) (1365.4,-0.1) (1366.6,0.02)
(1367.7,-0.05) (1368.4,0.2) (1368.9,1.2) (1369.4,1.6) (1370.1,1.75) (1370.7,1.35) (1371.4,1.7) (1372.9,1.9) (1373.4,1.6) (1373.7,0.7) (1374.2,0.05) (1375.5,-0.1) (1376.7,0.02)
(1378.2,-0.05) (1378.9,0.2) (1379.4,1.2) (1379.9,1.5) (1380.6,1.65) (1381.2,1.25) (1381.9,1.6) (1383.2,1.86) (1383.7,1.5) (1384.0,0.7) (1384.5,0.05) (1385.8,-0.2) (1387.0,0.02)
(1388.1,-0.05) (1388.8,0.2) (1389.3,1.2) (1389.8,1.6) (1390.5,1.75) (1391.1,1.35) (1391.8,1.7) (1393.3,1.9) (1393.8,1.6) (1394.1,0.7) (1394.6,0.05) (1395.9,-0.1) (1397.1,0.02)
(1398.2,-0.05) (1398.9,0.2) (1399.4,1.2) (1399.9,1.6) (1400.6,1.75) (1401.2,1.35) (1401.9,1.7) (1403.4,1.88) (1403.9,1.6) (1404.2,0.7) (1404.7,0.05) (1406.0,-0.1) (1407.2,0.02)
(1408.4,-0.05) (1409.1,0.2) (1409.6,1.2) (1410.1,1.5) (1410.8,1.65) (1411.4,1.25) (1412.1,1.6) (1413.4,1.8) (1413.9,1.5) (1414.2,0.7) (1414.7,0.05) (1416.0,-0.1) (1417.2,0.02)
(1418.7,-0.05) (1419.4,0.2) (1419.9,1.2) (1420.4,1.5) (1421.1,1.65) (1421.7,1.25) (1422.4,1.6) (1423.9,1.82) (1424.4,1.5) (1424.7,0.7) (1425.2,0.05) (1426.5,-0.1) (1427.7,0.02)
(1428.8,-0.05) (1429.5,0.2) (1430.0,1.2) (1430.5,1.5) (1431.2,1.65) (1431.8,1.25) (1432.5,1.6) (1434.0,1.75) (1434.5,1.5) (1434.8,0.7) (1435.3,0.05) (1436.6,-0.1) (1437.8,0.02)
(1438.9,-0.05) (1439.6,0.2) (1440.1,1.2) (1440.6,1.5) (1441.3,1.65) (1441.9,1.25) (1442.6,1.6) (1443.9,1.75) (1444.4,1.5) (1444.7,0.7) (1445.2,0.05) (1446.5,-0.15) (1447.7,0.02)
(1448.8,-0.05) (1449.5,0.2) (1450.0,1.2) (1450.5,1.5) (1451.2,1.65) (1451.8,1.25) (1452.5,1.6) (1453.9,1.82) (1454.4,1.5) (1454.7,0.7) (1455.2,0.05) (1456.5,-0.1) (1457.7,0.02)
(1459.0,-0.05) (1459.7,0.2) (1460.2,1.2) (1460.7,1.3) (1461.4,1.45) (1462.0,1.05) (1462.7,1.4) (1464.0,1.75) (1464.5,1.3) (1464.8,0.7) (1465.3,0.05) (1466.6,-0.1) (1467.8,0.02)
(1469.4,-0.05) (1470.1,0.2) (1470.6,1.2) (1471.1,1.5) (1471.8,1.65) (1472.4,1.25) (1473.1,1.6) (1474.5,1.8) (1475.0,1.5) (1475.3,0.7) (1475.8,0.05) (1477.1,-0.1) (1478.3,0.02)
(1479.4,-0.05) (1480.1,0.2) (1480.6,1.2) (1481.1,1.5) (1481.8,1.65) (1482.4,1.25) (1483.1,1.6) (1484.4,1.85) (1484.9,1.5) (1485.2,0.7) (1485.7,0.05) (1487.0,-0.1) (1488.2,0.02)
(1489.3,-0.05) (1490.0,0.2) (1490.5,1.2) (1491.0,1.6) (1491.7,1.75) (1492.3,1.35) (1493.0,1.7) (1494.5,1.75) (1495.0,1.6) (1495.3,0.7) (1495.8,0.05) (1497.1,-0.1) (1498.3,0.02)
(1499.4,-0.05) (1500.1,0.2) (1500.6,1.2) (1501.1,1.5) (1501.8,1.65) (1502.4,1.25) (1503.1,1.6) (1504.1,1.75) (1504.6,1.5) (1504.9,0.7) (1505.4,0.05) (1506.5,-0.05) (1507.7,0.0)};
\end{axis}
% annotations in pixel coordinates
\begin{scope}[x=0.5pt,y=-0.5pt,shift={(0pt,781pt)}]
\tikzset{labx/.style={font=\fontsize{10}{12}\selectfont\bfseries},
  captx/.style={font=\fontsize{16}{18}\selectfont\bfseries},
  ttlx/.style={font=\fontsize{16}{18}\selectfont\bfseries, anchor=west, inner sep=0pt},
  typx/.style={font=\fontsize{15.5}{18}\selectfont, anchor=west, inner sep=0pt},
  arrx/.style={line width=1.7pt, -{Triangle[length=7pt,width=6.5pt]}}}
% axis labels
\node[labx] at (330,445) {Time (sec)};
\node[labx, rotate=90] at (18,202) {Torque (N-m)};
\node[labx] at (972,440) {Time (sec)};
\node[labx, rotate=90] at (657,200) {Torque (N-m)};
\node[labx] at (338,944) {Time (sec)};
\node[labx, rotate=90] at (20,695) {Torque (N-m)};
\node[labx] at (977,939) {Time (sec)};
\node[labx, rotate=90] at (660,693) {Torque (N-m)};
\node[labx] at (340,1497) {Time (sec)};
\node[labx, rotate=90] at (20,1243) {Torque (N-m)};
\node[labx] at (990,1497) {Time (sec)};
\node[labx, rotate=90] at (670,1246) {Torque (N-m)};
% captions
\node[captx] at (333,477) {(a)};
\node[captx] at (975,474) {(b)};
\node[captx] at (333,989) {(c)};
\node[captx] at (975,989) {(d)};
\node[captx] at (333,1543) {(e)};
\node[captx] at (977,1543) {(f)};
% titles
\node[ttlx] at (90,52) {HSS (Dry)};
\node[ttlx] at (741,50) {HSS (H\textsubscript{2}O-MQL)};
\node[ttlx] at (96,566) {NH-DLC (H\textsubscript{2}O-MQL)};
\node[ttlx] at (741,546) {H-DLC (H\textsubscript{2}O-MQL)};
% type annotations
\node[typx] at (88,132) {Type 1};
\draw[arrx] (127,156) -- (82,223);
\node[typx] at (245,124) {Type 2};
\draw[arrx] (286,147) -- (256,212);
\node[typx] at (415,55) {Type 3};
\draw[arrx] (461,74) -- (430,145);
\draw[arrx] (461,74) -- (488,101);
\node[font=\fontsize{16}{18}\selectfont] at (577,70) {*};
\node[typx] at (740,163) {Type 1};
\draw[arrx] (775,188) -- (728,256);
\end{scope}
\end{tikzpicture}
\end{document}
